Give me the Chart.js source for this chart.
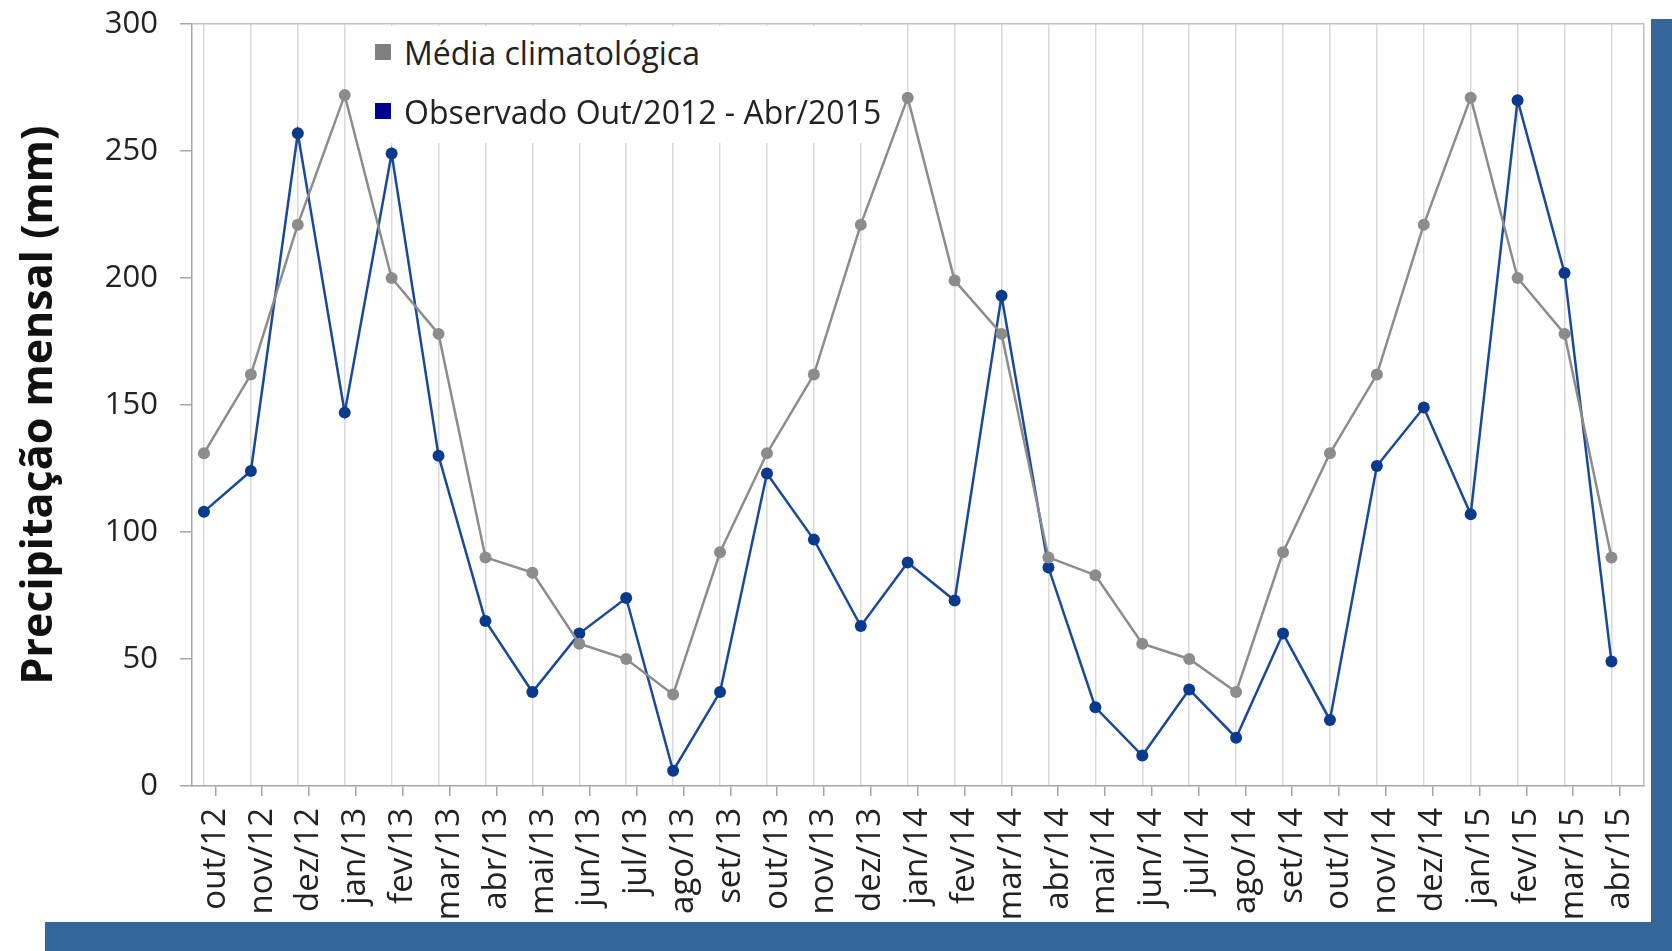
<!DOCTYPE html>
<html>
<head>
<meta charset="utf-8">
<title>Precipitação mensal</title>
<script src="https://cdn.jsdelivr.net/npm/chart.js@4/dist/chart.umd.min.js"></script>
<style>
    html, body { margin: 0; padding: 0; background: #fff; }
    #wrap { position: relative; width: 1672px; height: 951px; overflow: hidden; font-family: 'Open Sans', sans-serif; }
    #chart { position: absolute; left: 0; top: 0; }
    .frame-right { position: absolute; left: 1651px; top: 19px; width: 21px; height: 932px; background: #336699; }
    .frame-bottom { position: absolute; left: 45px; top: 922px; width: 1627px; height: 29px; background: #336699; }
    #legend { position: absolute; left: 362px; top: 26px; width: 516px; height: 117px; background: #fff; }
    .item { position: absolute; left: 13px; height: 40px; display: flex; align-items: center; font-size: 32px; color: #222; white-space: nowrap; }
    .box { width: 16px; height: 16px; margin-right: 13px; }
</style>
</head>
<body>
<div id="wrap">
    <canvas id="chart" width="1672" height="951"></canvas>
    <div id="legend"></div>
    <div class="frame-right"></div>
    <div class="frame-bottom"></div>
</div>
<script>
const months = [
    'out/12', 'nov/12', 'dez/12', 'jan/13', 'fev/13', 'mar/13', 'abr/13', 'mai/13',
    'jun/13', 'jul/13', 'ago/13', 'set/13', 'out/13', 'nov/13', 'dez/13', 'jan/14',
    'fev/14', 'mar/14', 'abr/14', 'mai/14', 'jun/14', 'jul/14', 'ago/14', 'set/14',
    'out/14', 'nov/14', 'dez/14', 'jan/15', 'fev/15', 'mar/15', 'abr/15'
];

const mediaClimatologica = [
    131, 162, 221, 272, 200, 178, 90, 84, 56, 50, 36, 92,
    131, 162, 221, 271, 199, 178, 90, 83, 56, 50, 37, 92,
    131, 162, 221, 271, 200, 178, 90
];

const observado = [
    108, 124, 257, 147, 249, 130, 65, 37, 60, 74, 6, 37,
    123, 97, 63, 88, 73, 193, 86, 31, 12, 38, 19, 60,
    26, 126, 149, 107, 270, 202, 49
];

const yTicks = [0, 50, 100, 150, 200, 250, 300];

const grayColor = '#8c8c8c';
const blueLine = '#1a4a96';
const bluePoint = '#0a3a8c';
const legendColors = ['#808080', '#00008f'];

Chart.defaults.font.family = "'Open Sans', sans-serif";
Chart.defaults.color = '#222';

const ctx = document.getElementById('chart').getContext('2d');
const chart = new Chart(ctx, {
    type: 'line',
    data: {
        datasets: [
            {
                label: 'Média climatológica',
                data: mediaClimatologica.map((v, i) => ({ x: i, y: v })),
                borderColor: grayColor,
                backgroundColor: grayColor,
                borderWidth: 2.5,
                pointRadius: 6,
                pointBorderWidth: 0,
                tension: 0,
                xAxisID: 'x',
                yAxisID: 'y',
            },
            {
                label: 'Observado Out/2012 - Abr/2015',
                data: observado.map((v, i) => ({ x: i, y: v })),
                borderColor: blueLine,
                backgroundColor: bluePoint,
                borderWidth: 2.5,
                pointRadius: 6,
                pointBorderWidth: 0,
                tension: 0,
                xAxisID: 'x',
                yAxisID: 'y',
            }
        ]
    },
    options: {
        responsive: false,
        animation: false,
        layout: {
            padding: { top: 24, right: 27, left: 0, bottom: 0 }
        },
        plugins: {
            legend: { display: false },
            tooltip: { enabled: false },
        },
        scales: {
            // points sit a quarter category left of the label centres, as in the original
            x: {
                type: 'linear',
                position: 'bottom',
                min: -0.255,
                max: 30.68,
                afterBuildTicks: scale => {
                    scale.ticks = months.map((m, i) => ({ value: i }));
                },
                afterFit: scale => { scale.height = 0; },
                ticks: { display: false },
                grid: { color: '#d9d9d9', lineWidth: 1.5, drawTicks: false },
                border: { display: false },
            },
            xCat: {
                type: 'category',
                position: 'bottom',
                labels: months,
                offset: true,
                afterFit: scale => { scale.height = 165; },
                grid: { drawOnChartArea: false, tickLength: 10, color: '#a6a6a6', lineWidth: 1.5 },
                border: { color: '#a6a6a6', width: 1.5 },
                ticks: {
                    minRotation: 90,
                    maxRotation: 90,
                    autoSkip: false,
                    padding: 12,
                    color: '#222',
                    font: { size: 33 },
                },
            },
            y: {
                min: 0,
                max: 300,
                afterBuildTicks: scale => {
                    scale.ticks = yTicks.map(v => ({ value: v }));
                },
                afterFit: scale => {
                    scale.width = 192;
                    scale.paddingTop = 0;
                    scale.paddingBottom = 0;
                },
                ticks: { padding: 22, color: '#222', font: { size: 31 } },
                title: {
                    display: true,
                    text: 'Precipitação mensal (mm)',
                    color: '#111',
                    font: { size: 43, weight: 'bold' },
                    padding: { top: 14 },
                },
                grid: {
                    color: c => (c.tick && c.tick.value === 300 ? '#bfbfbf' : 'rgba(0,0,0,0)'),
                    tickColor: '#a6a6a6',
                    tickLength: 12,
                    lineWidth: 1.5,
                },
                border: { color: '#a6a6a6', width: 1.5 },
            },
            yRight: {
                position: 'right',
                min: 0,
                max: 300,
                afterFit: scale => {
                    scale.width = 0;
                    scale.paddingTop = 0;
                    scale.paddingBottom = 0;
                },
                ticks: { display: false },
                grid: { display: false, drawTicks: false },
                border: { color: '#bfbfbf', width: 1.5 },
            }
        }
    }
});

// legend inside the plot, built from the datasets
const legend = document.getElementById('legend');
chart.data.datasets.forEach((ds, i) => {
    const item = document.createElement('div');
    item.className = 'item';
    item.style.top = (6 + i * 59) + 'px';
    const box = document.createElement('span');
    box.className = 'box';
    box.style.background = legendColors[i];
    const label = document.createElement('span');
    label.textContent = ds.label;
    item.appendChild(box);
    item.appendChild(label);
    legend.appendChild(item);
});
</script>
</body>
</html>
